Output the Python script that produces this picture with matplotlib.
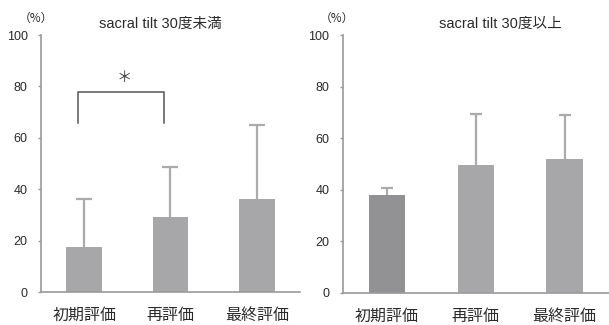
import numpy as np
import matplotlib as mpl
import matplotlib.pyplot as plt

mpl.rcParams['font.family'] = ['Liberation Sans', 'Noto Sans CJK JP', 'DejaVu Sans']

# category labels and values (mean, mean + SD) for the two groups
labels = ['初期評価', '再評価', '最終評価']
under30_mean = [17.5, 29.2, 36.1]
under30_top = [36.2, 48.5, 64.8]
over30_mean = [37.8, 49.4, 52.0]
over30_top = [40.6, 69.2, 69.0]
titles = ['sacral tilt 30度未満', 'sacral tilt 30度以上']

fig = plt.figure(figsize=(6.09, 3.25), dpi=100)
axL = fig.add_axes([0.0673, 0.1015, 0.4253, 0.7908])
axR = fig.add_axes([0.5627, 0.1000, 0.4373, 0.7923])

bar_col = '#a7a7a9'
err_col = '#ababad'
axis_col = '#9a9a9a'
txt_col = '#2a2a2a'

def draw(ax, mean, top, colors, title, title_x, cap, label_pad):
    x = np.arange(len(mean))
    # upper half of the SD bar only: stem from bar top, cap at mean + SD
    ax.vlines(x, mean, top, color=err_col, lw=1.6, zorder=1)
    ax.plot(x, top, ls='none', marker='_', ms=cap, mew=1.6, color=err_col, zorder=1)
    ax.bar(x, mean, width=0.41, color=colors, zorder=2)
    ax.set_xlim(-0.5, 2.5)
    ax.set_ylim(0, 100)
    ax.set_yticks([0, 20, 40, 60, 80, 100])
    ax.set_xticks(x)
    ax.set_xticklabels(labels, fontsize=11.5, color=txt_col,
                       family=['Noto Sans CJK JP'])
    ax.tick_params(axis='x', length=0, pad=label_pad)
    ax.tick_params(axis='y', length=2.5, width=1, color=axis_col,
                   labelsize=9, labelcolor=txt_col, pad=7)
    for s in ['top', 'right']:
        ax.spines[s].set_visible(False)
    for s in ['left', 'bottom']:
        ax.spines[s].set_color(axis_col)
        ax.spines[s].set_linewidth(1.2)
    ax.text(title_x, 104.5, title, ha='center', va='center', fontsize=10.5,
            color=txt_col, clip_on=False)
    ax.text(-0.56, 106.3, '（%）', ha='center', va='center', fontsize=8.5,
            color=txt_col, clip_on=False, family=['Noto Sans CJK JP'])

draw(axL, under30_mean, under30_top, [bar_col] * 3, titles[0], 0.88, 12, 10.5)
draw(axR, over30_mean, over30_top, ['#929294', bar_col, bar_col], titles[1], 1.28, 9, 11)

# significance bracket between first and second evaluation
axL.plot([-0.075, -0.075, 0.93, 0.93], [65.7, 77.8, 77.8, 65.7],
         color='#555555', lw=1.1, zorder=3)
axL.text(0.46, 83.5, '＊', ha='center', va='center', fontsize=11, color='#444444',
         family=['Noto Sans CJK JP'])

plt.savefig('out.png', dpi=100)
